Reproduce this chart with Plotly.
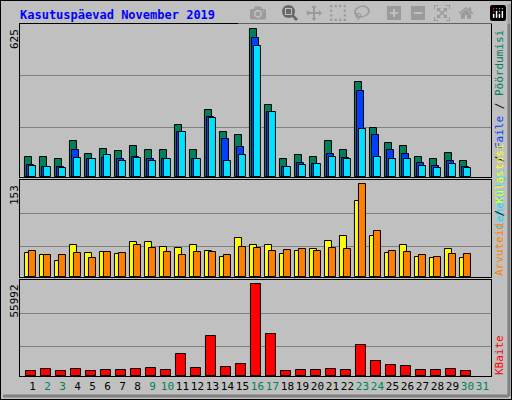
import plotly.graph_objects as go

days = list(range(1, 31))
hits = [86, 86, 74, 154, 99, 120, 108, 129, 112, 112, 218, 116, 282, 188, 176,
        625, 303, 78, 95, 86, 154, 116, 401, 205, 142, 129, 86, 74, 103, 69]
files = [52, 44, 44, 116, 74, 82, 78, 86, 74, 78, 188, 74, 252, 159, 125,
         588, 273, 44, 61, 57, 99, 82, 363, 176, 112, 99, 61, 48, 69, 44]
pages = [48, 44, 40, 82, 74, 95, 69, 82, 69, 74, 188, 74, 248, 69, 95,
         554, 273, 44, 52, 57, 86, 74, 201, 86, 78, 78, 48, 40, 57, 40]
visits = [40, 37, 27, 52, 40, 42, 38, 58, 58, 50, 48, 53, 43, 33, 65,
          52, 53, 38, 43, 47, 60, 68, 126, 68, 40, 53, 33, 32, 47, 32]
sites = [43, 37, 37, 40, 32, 42, 40, 52, 48, 42, 37, 42, 42, 37, 50,
         48, 43, 45, 47, 43, 48, 47, 153, 76, 43, 42, 37, 33, 38, 38]
kbytes = [3075, 4300, 3075, 4300, 3075, 3690, 3690, 4300, 4920, 3690, 13530, 4920,
          24600, 5535, 7380, 55992, 25830, 3075, 3690, 3690, 4300, 3690, 19065,
          9225, 6765, 6150, 3690, 3690, 4300, 3075]
tick_days = list(range(1, 32))
weekend = [2, 3, 9, 10, 16, 17, 23, 24, 30, 31]

GREEN, BLUE, CYAN = "#00805c", "#0040ff", "#00e0ff"
YELLOW, ORANGE, RED = "#ffff00", "#ff8000", "#ff0000"
BG = "#c0c0c0"
MONO = "DejaVu Sans Mono"

fig = go.Figure()

def bars(y, color, off, w, axis):
    fig.add_trace(go.Bar(x=days, y=y, offset=off, width=w, marker_color=color,
                         marker_line=dict(color="black", width=1),
                         xaxis="x", yaxis=axis, showlegend=False))

bars(hits, GREEN, -0.5, 0.47, "y")
bars(files, BLUE, -0.37, 0.47, "y")
bars(pages, CYAN, -0.23, 0.47, "y")
bars(visits, YELLOW, -0.5, 0.47, "y2")
bars(sites, ORANGE, -0.23, 0.47, "y2")
bars(kbytes, RED, -0.43, 0.67, "y3")

ticktext = [f"<span style='color:{GREEN if d in weekend else 'black'}'>{d}</span>" for d in tick_days]

yax = dict(showticklabels=False, ticks="", showline=True, mirror=True,
           linecolor="black", gridcolor="#808080", zeroline=False, fixedrange=True)

fig.update_layout(
    width=512, height=400, margin=dict(l=0, r=0, t=0, b=0),
    paper_bgcolor=BG, plot_bgcolor=BG, barmode="overlay", bargap=0,
    font=dict(family=MONO, size=11, color="black"),
    xaxis=dict(domain=[0.039, 0.959], range=[0.167, 31.57], anchor="y3",
               tickvals=tick_days, ticktext=ticktext, ticks="", showgrid=False,
               tickangle=0, automargin=False,
               showline=True, mirror=True, linecolor="black",
               tickfont=dict(family=MONO, size=11)),
    yaxis=dict(domain=[0.5575, 0.94], range=[0, 646], tickvals=[210, 427], **yax),
    yaxis2=dict(domain=[0.3075, 0.55], range=[0, 160], tickvals=[50, 105], **yax),
    yaxis3=dict(domain=[0.06, 0.30], range=[0, 58453], tickvals=[17835, 38130], **yax),
)

# overlay axes for top/middle panel frames
fig.update_layout(
    xaxis2=dict(domain=[0.039, 0.959], range=[0.167, 31.57], anchor="y", overlaying="x",
                showticklabels=False, showgrid=False, showline=True, mirror=True, linecolor="black"),
    xaxis3=dict(domain=[0.039, 0.959], range=[0.167, 31.57], anchor="y2", overlaying="x",
                showticklabels=False, showgrid=False, showline=True, mirror=True, linecolor="black"),
)
fig.add_trace(go.Scatter(x=[1], y=[0], xaxis="x2", yaxis="y", mode="none", showlegend=False))
fig.add_trace(go.Scatter(x=[1], y=[0], xaxis="x3", yaxis="y2", mode="none", showlegend=False))

fig.add_annotation(text="<b>Kasutuspäevad November 2019</b>", x=0.035, y=1 - 6 / 400,
                   xref="paper", yref="paper", xanchor="left", yanchor="top", showarrow=False,
                   font=dict(family=MONO, size=12, color="#0000ff"))

for label, ytop in [("625", 27), ("153", 183), ("55992", 283)]:
    fig.add_annotation(text=label, x=14 / 512, y=1 - ytop / 400, xref="paper", yref="paper",
                       xanchor="center", yanchor="top", textangle=-90, showarrow=False,
                       font=dict(family=MONO, size=11))

sl = "<span style='color:black'> / </span>"
fig.add_annotation(text=f"<span style='color:{CYAN}'>Lehekülgi</span>{sl}"
                        f"<span style='color:{BLUE}'>Faile</span>{sl}"
                        f"<span style='color:{GREEN}'>Pöördumisi</span>",
                   x=499 / 512, y=1 - 28 / 400, xref="paper", yref="paper",
                   xanchor="center", yanchor="top", textangle=-90, showarrow=False,
                   font=dict(family=MONO, size=11))
fig.add_annotation(text=f"<span style='color:{ORANGE}'>Arvuteid</span>{sl}"
                        f"<span style='color:{YELLOW}'>Külastusi</span>",
                   x=499 / 512, y=1 - 278 / 400, xref="paper", yref="paper",
                   xanchor="center", yanchor="bottom", textangle=-90, showarrow=False,
                   font=dict(family=MONO, size=11))
fig.add_annotation(text=f"<span style='color:{RED}'>KBaite</span>",
                   x=499 / 512, y=1 - 377 / 400, xref="paper", yref="paper",
                   xanchor="center", yanchor="bottom", textangle=-90, showarrow=False,
                   font=dict(family=MONO, size=11))

# outer frame with bevel
fig.add_shape(type="rect", xref="paper", yref="paper", x0=0, y0=0, x1=1, y1=1,
              line=dict(color="black", width=2))
fig.add_shape(type="line", xref="paper", yref="paper", x0=0.006, y0=0.01, x1=0.994, y1=0.01,
              line=dict(color="#808080", width=3))
fig.add_shape(type="line", xref="paper", yref="paper", x0=0.994, y0=0.01, x1=0.994, y1=0.99,
              line=dict(color="#808080", width=3))

fig.write_html("out.html", post_script="document.body.style.margin='0';")
